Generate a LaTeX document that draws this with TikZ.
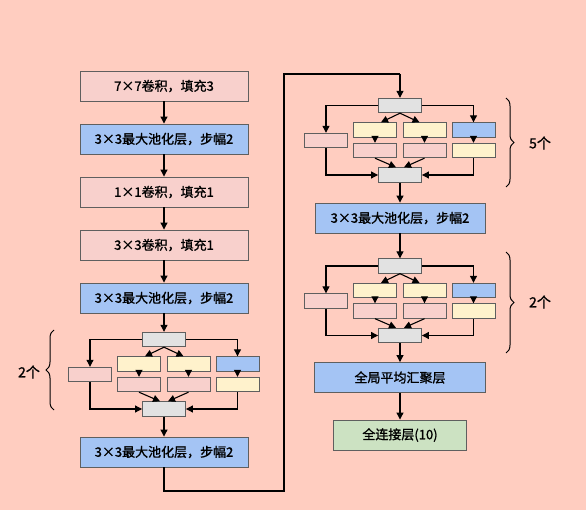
\documentclass[tikz,border=0pt]{standalone}
\usepackage{fontspec}
\setmainfont{Noto Sans CJK SC}[FakeBold=1.2]
\usetikzlibrary{arrows.meta,calc,decorations.pathreplacing}
\definecolor{bgc}{RGB}{255,205,192}
\definecolor{pinkc}{RGB}{248,208,204}
\definecolor{bluec}{RGB}{164,196,244}
\definecolor{yellowc}{RGB}{255,242,204}
\definecolor{grayc}{RGB}{226,226,226}
\definecolor{greenc}{RGB}{204,226,194}
\definecolor{edgec}{RGB}{95,95,95}
\tikzset{
  box/.style={draw=edgec, line width=0.9pt, minimum height=30pt, inner sep=0pt, font=\fontsize{13}{15}\selectfont},
  bigpink/.style={box, fill=pinkc, minimum width=168pt},
  bigblue/.style={box, fill=bluec, minimum width=168pt},
  sm/.style={draw=edgec, line width=0.9pt, minimum width=43pt, minimum height=14.5pt, inner sep=0pt},
  gbox/.style={sm, fill=grayc},
  pbox/.style={sm, fill=pinkc},
  ybox/.style={sm, fill=yellowc},
  bbox/.style={sm, fill=bluec},
  arr/.style={line width=1.1pt, -{Triangle[length=7pt,width=7pt]}},
  ln/.style={line width=1.1pt},
  brc/.style={line width=1pt, decorate, decoration={brace, amplitude=8pt}},
  lbl/.style={font=\fontsize{14}{16}\selectfont, inner sep=0pt}
}
\newcommand\incblock[3]{%
  \node[gbox] (#1g1) at (#2,#3) {};
  \node[pbox] (#1p0) at (#2-74,#3+35) {};
  \node[ybox] (#1y1) at (#2-25,#3+24.5) {};
  \node[ybox] (#1y2) at (#2+24.5,#3+24.5) {};
  \node[bbox] (#1b) at (#2+73.5,#3+24.5) {};
  \node[pbox] (#1p1) at (#2-25,#3+45) {};
  \node[pbox] (#1p2) at (#2+24.5,#3+45) {};
  \node[ybox] (#1y3) at (#2+73.5,#3+45) {};
  \node[gbox] (#1g2) at (#2,#3+69.5) {};
  \draw[arr] (#1g1.west) -| (#1p0.north);
  \draw[arr] (#1g1.east) -| (#1b.north);
  \draw[arr] (#1g1.south) -- ([xshift=6pt]#1y1.north);
  \draw[arr] (#1g1.south) -- ([xshift=-5pt]#1y2.north);
  \draw[arr] (#1y1.south) -- (#1p1.north);
  \draw[arr] (#1y2.south) -- (#1p2.north);
  \draw[arr] (#1b.south) -- (#1y3.north);
  \draw[arr] (#1p1.south) -- ([xshift=-4pt]#1g2.north);
  \draw[arr] (#1p2.south) -- ([xshift=4pt]#1g2.north);
  \draw[arr] (#1p0.south) |- (#1g2.west);
  \draw[arr] (#1y3.south) |- (#1g2.east);
}
\begin{document}
\begin{tikzpicture}[x=1pt,y=-1pt]
\fill[bgc] (0,0) rectangle (586,510);
\useasboundingbox (0,0) rectangle (586,510);
% left column
\node[bigpink] (c1) at (164,86) {7×7卷积，填充3};
\node[bigblue] (c2) at (164,139) {3×3最大池化层，步幅2};
\node[bigpink] (c3) at (164,192) {1×1卷积，填充1};
\node[bigpink] (c4) at (164,245) {3×3卷积，填充1};
\node[bigblue] (c5) at (164,298) {3×3最大池化层，步幅2};
\incblock{L}{164}{339.5}
\node[bigblue] (c6) at (164,452) {3×3最大池化层，步幅2};
\draw[arr] (c1) -- (c2);
\draw[arr] (c2) -- (c3);
\draw[arr] (c3) -- (c4);
\draw[arr] (c4) -- (c5);
\draw[arr] (c5) -- (Lg1);
\draw[arr] (Lg2) -- (c6);
% right column
\incblock{A}{400}{105.5}
\node[bigblue, minimum width=170pt] (r1) at (400,218) {3×3最大池化层，步幅2};
\incblock{B}{400}{266}
\node[bigblue, minimum width=171pt] (r2) at (400,377.5) {全局平均汇聚层};
\node[box, fill=greenc, minimum width=133pt] (r3) at (400,435) {全连接层(10)};
\draw[arr] (Ag2) -- (r1);
\draw[arr] (r1) -- (Bg1);
\draw[arr] (Bg2) -- (r2);
\draw[arr] (r2) -- (r3);
% long connector
\coordinate (k1) at (164,491);
\coordinate (k2) at (284,491);
\coordinate (k3) at (284,74);
\coordinate (k4) at (400,74);
\draw[ln] (c6.south) -- (k1) -- (k2) -- (k3) -- (k4);
\draw[arr] (k4) -- (Ag1.north);
% braces
\draw[brc] (54,410) -- (54,330);
\node[lbl] (t1) at (29,372) {2个};
\draw[brc] (506,98) -- (506,187);
\node[lbl] (t2) at (540,143) {5个};
\draw[brc] (506,252) -- (506,353);
\node[lbl] (t3) at (540,302) {2个};
\end{tikzpicture}
\end{document}
